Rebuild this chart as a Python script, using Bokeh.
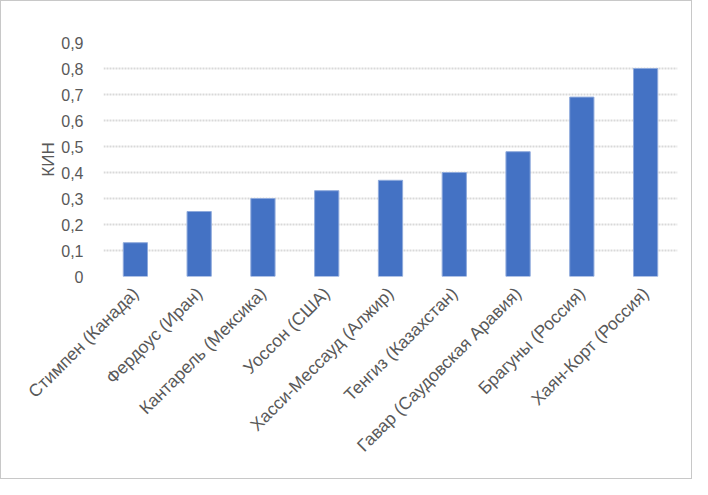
import math
from bokeh.plotting import figure
from bokeh.models import ColumnDataSource, Range1d, FixedTicker, CustomJSTickFormatter
from bokeh.embed import file_html
from bokeh.resources import INLINE

fields = ["Стимпен (Канада)", "Фердоус (Иран)", "Кантарель (Мексика)", "Уоссон (США)",
          "Хасси-Мессауд (Алжир)", "Тенгиз (Казахстан)", "Гавар (Саудовская Аравия)",
          "Брагуны (Россия)", "Хаян-Корт (Россия)"]
kin = [0.13, 0.25, 0.30, 0.33, 0.37, 0.40, 0.48, 0.69, 0.80]
y_ticks = [0, 0.1, 0.2, 0.3, 0.4, 0.5, 0.6, 0.7, 0.8, 0.9]
y_title = "КИН"

src = ColumnDataSource(data=dict(x=fields, y=kin))

p = figure(x_range=fields, y_range=Range1d(0, 0.9), width=692, height=479,
           output_backend="svg", toolbar_location=None,
           min_border_left=102, min_border_right=16, min_border_top=41, min_border_bottom=204)
p.x_range.range_padding = 0
p.vbar(x="x", top="y", width=0.38, source=src, fill_color="#4472C4",
       line_color="#8FAADC", line_width=1)

font = "Liberation Sans"
p.yaxis.ticker = FixedTicker(ticks=y_ticks)
p.yaxis.formatter = CustomJSTickFormatter(code="return tick == 0 ? '0' : tick.toFixed(1).replace('.', ',');")
p.yaxis.axis_label = y_title
p.yaxis.axis_label_text_font = font
p.yaxis.axis_label_text_font_size = "17px"
p.yaxis.axis_label_text_font_style = "normal"
p.yaxis.axis_label_text_color = "#595959"
p.yaxis.axis_label_standoff = 0
for ax in (p.xaxis, p.yaxis):
    ax.axis_line_color = None
    ax.major_tick_line_color = None
    ax.minor_tick_line_color = None
    ax.major_label_text_font = font
    ax.major_label_text_color = "#595959"
p.yaxis.major_label_text_font_size = "16px"
p.xaxis.major_label_text_font_size = "17.5px"
p.yaxis.major_label_standoff = 14
p.xaxis.major_label_orientation = math.pi / 4
p.xaxis.major_label_standoff = 8

p.xgrid.grid_line_color = None
p.ygrid.ticker = FixedTicker(ticks=y_ticks)
p.ygrid.grid_line_color = "#D9D9D9"
p.ygrid.grid_line_width = 2
p.ygrid.grid_line_dash = "2 1"
p.outline_line_color = None
p.styles = {"border": "1px solid #C8C8C8", "box-sizing": "border-box"}

open("out.html", "w").write(file_html(p, INLINE))
